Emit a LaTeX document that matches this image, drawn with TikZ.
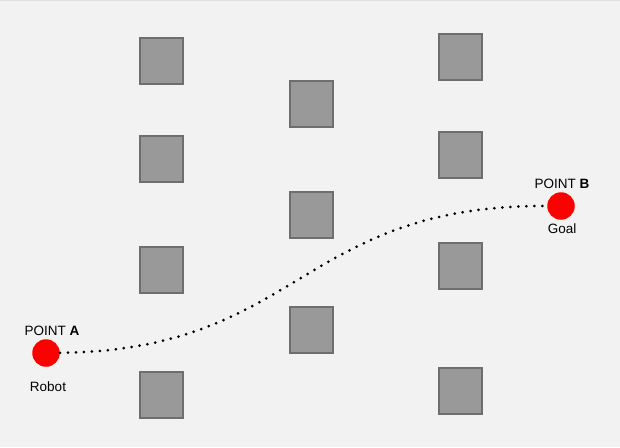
\documentclass[tikz,border=0pt]{standalone}
\usepackage{fontspec}
\setmainfont{Liberation Sans}
\usepackage{tikz}
\usetikzlibrary{positioning}

\definecolor{bggray}{HTML}{F2F2F2}
\definecolor{boxgray}{HTML}{999999}
\definecolor{edgegray}{HTML}{6E6E6E}

\begin{document}
\begin{tikzpicture}[
			x=1pt, y=-1pt,
			font=\fontsize{13.5}{16}\selectfont,
			obstacle/.style = {draw=edgegray, fill=boxgray, line width=1.4pt, minimum width=43pt, minimum height=46pt, inner sep=0pt},
			point/.style = {circle, fill=red, minimum size=27.5pt, inner sep=0pt},
			route/.style = {line width=3pt, line cap=round, dash pattern=on 0pt off 8pt}
		]
		\fill[bggray] (0,0) rectangle (620,447);
		\useasboundingbox (0,0) rectangle (620,447);
		\draw[black!12, line width=1.5pt] (0,0.5) -- (620,0.5);
		% Column 1.
		\node[obstacle] (o11) at (161.5,61) {};
		\node[obstacle] (o12) at (161.5,159) {};
		\node[obstacle] (o13) at (161.5,270) {};
		\node[obstacle] (o14) at (161.5,395) {};
		% Column 2.
		\node[obstacle] (o21) at (311.5,104) {};
		\node[obstacle] (o22) at (311.5,215) {};
		\node[obstacle] (o23) at (311.5,330) {};
		% Column 3.
		\node[obstacle] (o31) at (460.5,57) {};
		\node[obstacle] (o32) at (460.5,155) {};
		\node[obstacle] (o33) at (460.5,266) {};
		\node[obstacle] (o34) at (460.5,391) {};
		% Start and goal.
		\node[point, label={[xshift=6pt]above:{POINT \textbf{A}}}, label={[label distance=11pt, xshift=2pt]below:{Robot}}] (ra) at (46,353) {};
		\node[point, label={[xshift=1pt]above:{POINT \textbf{B}}}, label={[label distance=0pt, xshift=1pt]below:{Goal}}] (rb) at (561,206) {};

		\draw[route] (ra) .. controls (300,350) and (300,205) .. (rb);
	\end{tikzpicture}
\end{document}
